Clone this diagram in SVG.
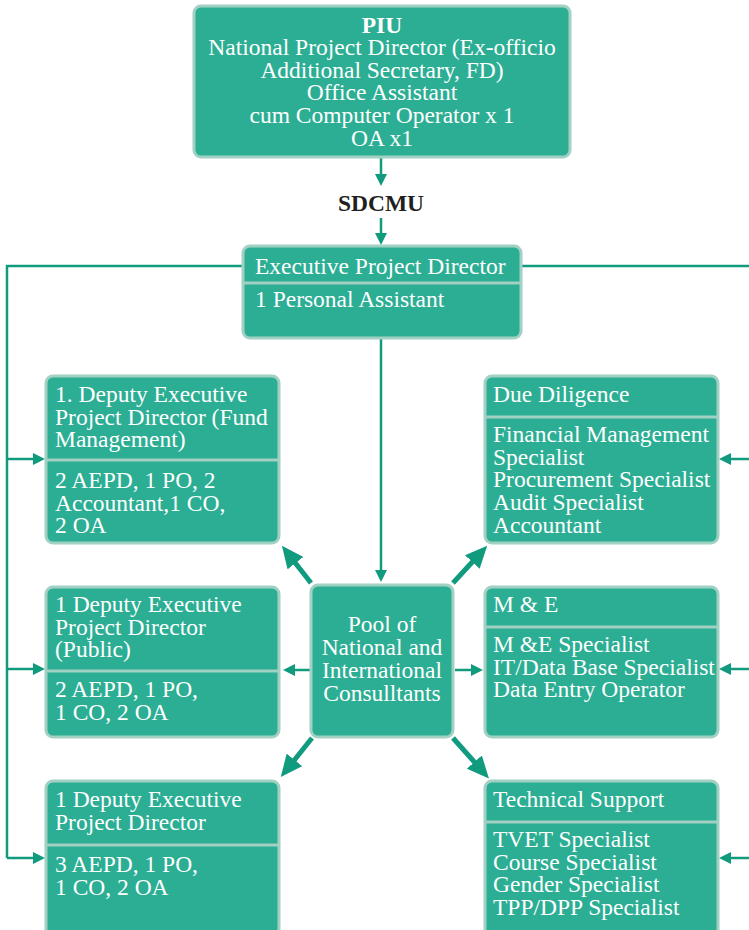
<svg xmlns="http://www.w3.org/2000/svg" width="749" height="930" viewBox="0 0 749 930">
<style>
.box{fill:#2bae93;stroke:#a2d0c3;stroke-width:3}
.dv{stroke:#a2d0c3;stroke-width:3}
.t{font-family:"Liberation Serif","Times New Roman",serif;font-size:23.5px;fill:#ffffff}
.m{text-anchor:middle}
.c{stroke:#109b7e;stroke-width:2.5;fill:none}
.k{stroke:#109b7e;stroke-width:5;fill:none}
</style>
<defs>
<marker id="ah" markerUnits="userSpaceOnUse" markerWidth="12" markerHeight="12" refX="3" refY="6" orient="auto" viewBox="0 0 12 12">
<path d="M0,0 L12,6 L0,12 z" fill="#109b7e"/>
</marker>
<marker id="bh" markerUnits="userSpaceOnUse" markerWidth="22" markerHeight="20" refX="4" refY="10" orient="auto" viewBox="0 0 22 20">
<path d="M0,0 L22,10 L0,20 z" fill="#109b7e"/>
</marker>
</defs>

<g id="connectors">
<line class="c" x1="381" y1="158" x2="381" y2="177" marker-end="url(#ah)"/>
<line class="c" x1="381" y1="218" x2="381" y2="236" marker-end="url(#ah)"/>
<line class="c" x1="381" y1="339" x2="381" y2="573" marker-end="url(#ah)"/>
<path class="c" d="M243,266 H7 V858"/>
<line class="c" x1="7" y1="459" x2="36" y2="459" marker-end="url(#ah)"/>
<line class="c" x1="7" y1="669" x2="36" y2="669" marker-end="url(#ah)"/>
<line class="c" x1="7" y1="858" x2="36" y2="858" marker-end="url(#ah)"/>
<path class="c" d="M521,266 H752 V858"/>
<line class="c" x1="752" y1="459" x2="728" y2="459" marker-end="url(#ah)"/>
<line class="c" x1="752" y1="669" x2="728" y2="669" marker-end="url(#ah)"/>
<line class="c" x1="752" y1="858" x2="728" y2="858" marker-end="url(#ah)"/>
<line class="c" x1="310" y1="670" x2="292" y2="670" marker-end="url(#ah)"/>
<line class="c" x1="455" y1="670" x2="474" y2="670" marker-end="url(#ah)"/>
<line class="k" x1="311" y1="583" x2="293" y2="560" marker-end="url(#bh)"/>
<line class="k" x1="453" y1="583" x2="475" y2="559" marker-end="url(#bh)"/>
<line class="k" x1="312" y1="738" x2="292" y2="763" marker-end="url(#bh)"/>
<line class="k" x1="453" y1="738" x2="477" y2="765" marker-end="url(#bh)"/>
</g>

<g id="piu">
<rect class="box" x="194" y="6" width="376" height="151" rx="7"/>
<text class="t m" x="382" y="33" font-weight="bold">PIU</text>
<text class="t m" x="382" y="55">National Project Director (Ex-officio</text>
<text class="t m" x="382" y="78">Additional Secretary, FD)</text>
<text class="t m" x="382" y="100">Office Assistant</text>
<text class="t m" x="382" y="123">cum Computer Operator x 1</text>
<text class="t m" x="382" y="146">OA x1</text>
</g>

<g id="sdcmu">
<text x="381" y="211" text-anchor="middle" font-family="Liberation Serif, Times New Roman, serif" font-size="23.5" font-weight="bold" fill="#231f20">SDCMU</text>
</g>

<g id="epd">
<rect class="box" x="243" y="246" width="278" height="92" rx="7"/>
<line class="dv" x1="243" y1="283" x2="521" y2="283"/>
<text class="t" x="255" y="274">Executive Project Director</text>
<text class="t" x="255" y="307">1 Personal Assistant</text>
</g>

<g id="dep1">
<rect class="box" x="46" y="376" width="233" height="167" rx="7"/>
<line class="dv" x1="46" y1="460" x2="279" y2="460"/>
<text class="t" x="55" y="402">1. Deputy Executive</text>
<text class="t" x="55" y="425">Project Director (Fund</text>
<text class="t" x="55" y="447">Management)</text>
<text class="t" x="55" y="488">2 AEPD, 1 PO, 2</text>
<text class="t" x="55" y="511">Accountant,1 CO,</text>
<text class="t" x="55" y="533">2 OA</text>
</g>

<g id="dep2">
<rect class="box" x="46" y="587" width="233" height="150" rx="7"/>
<line class="dv" x1="46" y1="671" x2="279" y2="671"/>
<text class="t" x="55" y="612">1 Deputy Executive</text>
<text class="t" x="55" y="635">Project Director</text>
<text class="t" x="55" y="657">(Public)</text>
<text class="t" x="55" y="697">2 AEPD, 1 PO,</text>
<text class="t" x="55" y="720">1 CO, 2 OA</text>
</g>

<g id="dep3">
<rect class="box" x="46" y="781" width="233" height="160" rx="7"/>
<line class="dv" x1="46" y1="845" x2="279" y2="845"/>
<text class="t" x="55" y="807">1 Deputy Executive</text>
<text class="t" x="55" y="830">Project Director</text>
<text class="t" x="55" y="872">3 AEPD, 1 PO,</text>
<text class="t" x="55" y="895">1 CO, 2 OA</text>
</g>

<g id="pool">
<rect class="box" x="311" y="585" width="142" height="152" rx="7"/>
<text class="t m" x="382" y="632">Pool of</text>
<text class="t m" x="382" y="655">National and</text>
<text class="t m" x="382" y="678">International</text>
<text class="t m" x="382" y="701">Consulltants</text>
</g>

<g id="due">
<rect class="box" x="485" y="376" width="233" height="167" rx="7"/>
<line class="dv" x1="485" y1="417" x2="718" y2="417"/>
<text class="t" x="493" y="402">Due Diligence</text>
<text class="t" x="493" y="442">Financial Management</text>
<text class="t" x="493" y="465">Specialist</text>
<text class="t" x="493" y="487">Procurement Specialist</text>
<text class="t" x="493" y="510">Audit Specialist</text>
<text class="t" x="493" y="533">Accountant</text>
</g>

<g id="me">
<rect class="box" x="485" y="587" width="233" height="150" rx="7"/>
<line class="dv" x1="485" y1="627" x2="718" y2="627"/>
<text class="t" x="493" y="612">M &amp; E</text>
<text class="t" x="493" y="652">M &amp;E Specialist</text>
<text class="t" x="493" y="675">IT/Data Base Specialist</text>
<text class="t" x="493" y="697">Data Entry Operator</text>
</g>

<g id="tech">
<rect class="box" x="485" y="781" width="233" height="160" rx="7"/>
<line class="dv" x1="485" y1="822" x2="718" y2="822"/>
<text class="t" x="493" y="807">Technical Support</text>
<text class="t" x="493" y="847">TVET Specialist</text>
<text class="t" x="493" y="870">Course Specialist</text>
<text class="t" x="493" y="892">Gender Specialist</text>
<text class="t" x="493" y="915">TPP/DPP Specialist</text>
</g>
</svg>
